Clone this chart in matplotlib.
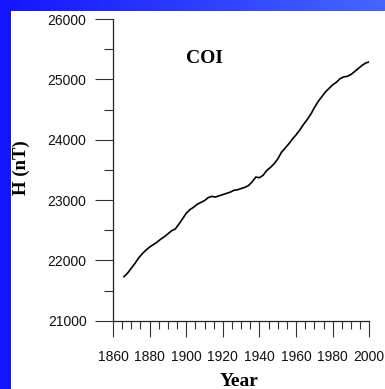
import numpy as np
import matplotlib
matplotlib.use("Agg")
import matplotlib.pyplot as plt
from matplotlib.ticker import MultipleLocator

# Horizontal geomagnetic field intensity at COI observatory
years = [1866, 1868, 1870, 1872, 1874, 1876, 1878, 1880, 1882, 1884,
         1886, 1888, 1890, 1892, 1894, 1896, 1898, 1900, 1902, 1904,
         1906, 1908, 1910, 1912, 1914, 1916, 1918, 1920, 1922, 1924,
         1926, 1928, 1930, 1932, 1934, 1936, 1938, 1940, 1942, 1944,
         1946, 1948, 1950, 1952, 1954, 1956, 1958, 1960, 1962, 1964,
         1966, 1968, 1970, 1972, 1974, 1976, 1978, 1980, 1982, 1984,
         1986, 1988, 1990, 1992, 1994, 1996, 1998, 2000]
h_nt = [21730, 21790, 21870, 21950, 22040, 22110, 22170, 22220, 22260, 22300,
        22350, 22390, 22440, 22490, 22520, 22600, 22690, 22780, 22840, 22880,
        22930, 22960, 22990, 23040, 23060, 23050, 23070, 23090, 23110, 23130,
        23160, 23170, 23190, 23210, 23240, 23300, 23380, 23370, 23410, 23490,
        23540, 23600, 23680, 23790, 23860, 23930, 24010, 24080, 24160, 24250,
        24330, 24420, 24530, 24630, 24710, 24790, 24850, 24910, 24950, 25010,
        25040, 25050, 25080, 25130, 25180, 25230, 25270, 25290]

station = "COI"
x_label = "Year"
y_label = "H (nT)"

W, H = 385, 389
fig = plt.figure(figsize=(W / 100, H / 100), dpi=100, facecolor="white")

# Blue frame strips along the left and top edges
left_strip = fig.add_axes([0, 0, 11 / W, 1])
left_strip.set_axis_off()
left_strip.imshow(np.array([[[0.08, 0.08, 1.0]]]), aspect="auto", extent=[0, 1, 0, 1])
top_strip = fig.add_axes([0, 1 - 11 / H, 1, 11 / H])
top_strip.set_axis_off()
grad = np.linspace(0, 1, 256)
c0 = np.array([0.08, 0.08, 1.0])
c1 = np.array([0.27, 0.40, 1.0])
top_strip.imshow((c0 + (c1 - c0) * grad[:, None])[None, :, :], aspect="auto",
                 extent=[0, 1, 0, 1])

ax = fig.add_axes([113 / W, 1 - 320.7 / H, 256.3 / W, 301.7 / H])
ax.plot(years, h_nt, color="black", lw=1.2)

ax.set_xlim(1860, 2000)
ax.set_ylim(21000, 26000)
ax.xaxis.set_major_locator(MultipleLocator(20))
ax.xaxis.set_minor_locator(MultipleLocator(5))
ax.yaxis.set_major_locator(MultipleLocator(1000))
ax.yaxis.set_minor_locator(MultipleLocator(500))

for side in ("top", "right"):
    ax.spines[side].set_visible(False)
for side in ("left", "bottom"):
    ax.spines[side].set_linewidth(0.9)
    ax.spines[side].set_color("#222222")

ax.tick_params(axis="y", which="major", direction="out", length=13, width=0.8,
               color="#333333", pad=6, labelsize=10)
ax.tick_params(axis="y", which="minor", direction="out", length=6.5, width=0.8,
               color="#333333")
ax.tick_params(axis="x", which="major", direction="out", length=11.5, width=0.8,
               color="#333333", pad=9.5, labelsize=10)
ax.tick_params(axis="x", which="minor", direction="out", length=5.5, width=0.8,
               color="#333333")
for lab in ax.get_xticklabels() + ax.get_yticklabels():
    lab.set_fontfamily("Liberation Sans")
    lab.set_color("#111111")

serif_bold = dict(family="Liberation Serif", weight="bold", color="black")
fig.text(204 / W, 1 - 63 / H, station, ha="center", va="baseline", fontsize=14, **serif_bold)
fig.text(239 / W, 1 - 386 / H, x_label, ha="center", va="baseline", fontsize=14, **serif_bold)
fig.text(21.5 / W, 1 - 168 / H, y_label, ha="center", va="center", rotation=90,
         fontsize=13.5, **serif_bold)

fig.savefig("out.png", dpi=100, facecolor="white")
